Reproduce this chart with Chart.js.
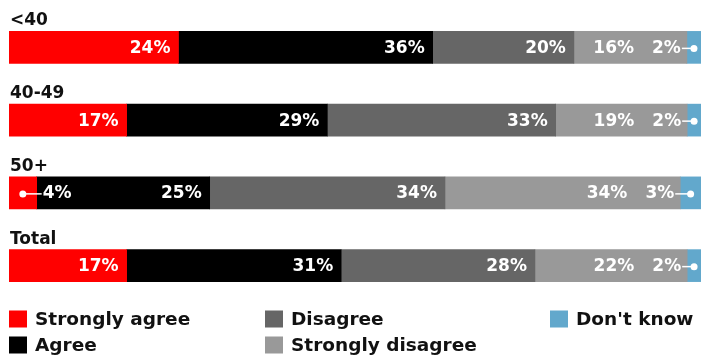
<!DOCTYPE html>
<html>
<head>
<meta charset="utf-8">
<script src="https://cdn.jsdelivr.net/npm/chart.js@4"></script>
<style>
    html, body { margin: 0; padding: 0; background: #fff; }
    canvas { display: block; }
</style>
</head>
<body>
<canvas id="chart" width="701" height="358"></canvas>
<script>
// Data
const groups = ['<40', '40-49', '50+', 'Total'];
const seriesNames = ['Strongly agree', 'Agree', 'Disagree', 'Strongly disagree', "Don't know"];
const stronglyAgree = [24, 17, 4, 17];
const agree = [36, 29, 25, 31];
const disagree = [20, 33, 34, 28];
const stronglyDisagree = [16, 19, 34, 22];
const dontKnow = [2, 2, 3, 2];

const colors = ['#ff0000', '#000000', '#666666', '#999999', '#62a8cc'];
const series = [stronglyAgree, agree, disagree, stronglyDisagree, dontKnow];

// rows don't always add up to 100 (rounding) - scale each row so the bar fills the width
const rowTotals = groups.map((g, i) => series.reduce((s, arr) => s + arr[i], 0));

const FONT = '"DejaVu Sans", "Liberation Sans", sans-serif';
const TEXT_DARK = '#111';
const SMALL = 5; // values below this get a leader line + dot

/**
 * Draws group titles, % labels (with leaders for small slices) and the legend
 */
const labelPlugin = {
    id: 'segmentLabels',
    afterDatasetsDraw(chart) {
        const c = chart.ctx;
        const n = series.length;
        c.save();

        groups.forEach((g, i) => {
            const bars = series.map((arr, k) =>
                chart.getDatasetMeta(k).data[i].getProps(['x', 'y', 'base', 'height'], true));
            const top = bars[0].y - bars[0].height / 2;

            // group title above the bar
            c.font = 'bold 17px ' + FONT;
            c.fillStyle = TEXT_DARK;
            c.textAlign = 'left';
            c.textBaseline = 'alphabetic';
            c.fillText(g, chart.chartArea.left + 1, top - 6);

            c.textBaseline = 'middle';
            c.fillStyle = '#fff';
            c.strokeStyle = '#fff';
            c.lineWidth = 1.5;

            const smallLast = series[n - 1][i] < SMALL;
            const lastLabelW = c.measureText(series[n - 1][i] + '%').width;

            series.forEach((arr, k) => {
                const b = bars[k];
                const start = Math.min(b.base, b.x);
                const end = Math.max(b.base, b.x);
                const txt = arr[i] + '%';
                const y = b.y + 1;

                if (arr[i] < SMALL && k === 0) {
                    // dot inside, label to the right
                    const lx = end + 6;
                    drawLeader(c, (start + end) / 2, lx - 1, y);
                    c.textAlign = 'left';
                    c.fillText(txt, lx, y);
                } else if (arr[i] < SMALL && k === n - 1) {
                    // dot inside, label to the left
                    const rx = start - 6;
                    drawLeader(c, rx + 1, (start + end) / 2, y);
                    c.textAlign = 'right';
                    c.fillText(txt, rx, y);
                } else {
                    let rx = end - 8;
                    // make room for the small label sitting in this segment
                    if (k === n - 2 && smallLast) {
                        rx = end - 6 - lastLabelW - 18;
                    }
                    c.textAlign = 'right';
                    c.fillText(txt, rx, y);
                }
            });
        });

        drawLegend(c);
        c.restore();
    }
};

function drawLeader(c, x1, x2, y) {
    c.beginPath();
    c.moveTo(x1, y);
    c.lineTo(x2, y);
    c.stroke();
}

function drawDot(c, x, y) {
    c.beginPath();
    c.arc(x, y, 3.5, 0, Math.PI * 2);
    c.fill();
}

// legend: 2 rows, filled column by column
function drawLegend(c) {
    const colX = [9, 265, 550];
    const rowY = [319, 345];
    c.font = 'bold 18.5px ' + FONT;
    c.textAlign = 'left';
    c.textBaseline = 'middle';
    seriesNames.forEach((name, k) => {
        const x = colX[Math.floor(k / 2)];
        const y = rowY[k % 2];
        c.fillStyle = colors[k];
        c.fillRect(x, y - 8.5, 18, 17);
        c.fillStyle = TEXT_DARK;
        c.fillText(name, x + 26, y + 1);
    });
}

// dots drawn after leaders so they sit on top
const dotPlugin = {
    id: 'leaderDots',
    afterDraw(chart) {
        const c = chart.ctx;
        const n = series.length;
        c.save();
        c.fillStyle = '#fff';
        groups.forEach((g, i) => {
            [0, n - 1].forEach(k => {
                if (series[k][i] >= SMALL) return;
                const b = chart.getDatasetMeta(k).data[i].getProps(['x', 'y', 'base'], true);
                drawDot(c, (b.base + b.x) / 2, b.y + 1);
            });
        });
        c.restore();
    }
};

new Chart(document.getElementById('chart'), {
    type: 'bar',
    data: {
        labels: groups,
        datasets: series.map((arr, k) => ({
            label: seriesNames[k],
            data: arr.map((v, i) => v / rowTotals[i] * 100),
            backgroundColor: colors[k],
            borderWidth: 0,
            barThickness: 32
        }))
    },
    options: {
        indexAxis: 'y',
        responsive: false,
        animation: false,
        layout: { padding: { top: 11, bottom: 56, left: 9, right: 0 } },
        scales: {
            x: { stacked: true, min: 0, max: 100, display: false },
            y: { stacked: true, display: false }
        },
        plugins: {
            legend: { display: false },
            tooltip: { enabled: false }
        }
    },
    plugins: [labelPlugin, dotPlugin]
});
</script>
</body>
</html>
